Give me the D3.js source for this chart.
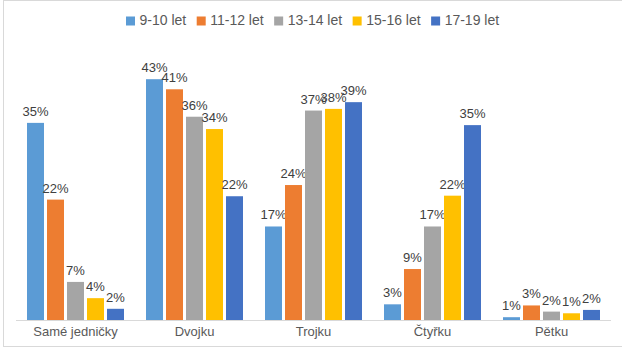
<!DOCTYPE html>
<html><head><meta charset="utf-8">
<script src="https://cdn.jsdelivr.net/npm/d3@7"></script>
<style>body{margin:0;background:#fff}svg{display:block}</style>
</head><body>
<svg id="c" width="622" height="348"></svg>
<script>
const categories = ["Samé jedničky","Dvojku","Trojku","Čtyřku","Pětku"];
const seriesNames = ["9-10 let","11-12 let","13-14 let","15-16 let","17-19 let"];
const colors = ["#5B9BD5","#ED7D31","#A5A5A5","#FFC000","#4472C4"];
const s910  = [0.352, 0.430, 0.167, 0.028, 0.005];
const s1112 = [0.215, 0.412, 0.241, 0.091, 0.026];
const s1314 = [0.068, 0.363, 0.374, 0.167, 0.015];
const s1516 = [0.039, 0.341, 0.377, 0.222, 0.012];
const s1719 = [0.020, 0.221, 0.389, 0.348, 0.018];
const seriesValues = [s910, s1112, s1314, s1516, s1719];

const svg = d3.select("#c");
const W = 622, H = 348;
svg.append("rect").attr("x",3.5).attr("y",0.5).attr("width",700).attr("height",346)
  .attr("fill","#fff").attr("stroke","#d9d9d9");

const left = 16, right = 611, base = 320;
const x0 = d3.scaleBand().domain(categories).range([left,right]).paddingInner(0).paddingOuter(0);
const y = d3.scaleLinear().domain([0,0.5]).range([base, base-280]);
const barW = 17, pitch = 20;
const x1 = d3.scaleBand().domain(seriesNames).range([0, pitch*5]).padding(0);

const g = svg.append("g");
seriesNames.forEach((s,si)=>{
  const vals = seriesValues[si];
  categories.forEach((c,ci)=>{
    const cx = x0(c) + x0.bandwidth()/2 - (pitch*5 - (pitch-barW))/2;
    const bx = cx + x1(s);
    const v = vals[ci];
    g.append("rect").attr("x",bx).attr("y",y(v)).attr("width",barW).attr("height",base-y(v))
      .attr("fill",colors[si]);
    g.append("text").attr("x",bx+barW/2).attr("y",y(v)-7).attr("text-anchor","middle")
      .attr("font-family","Liberation Sans, Arial, sans-serif").attr("font-size",13)
      .attr("fill","#404040").text(d3.format(".0%")(v));
  });
});

// baseline axis
const ax = svg.append("g").attr("transform",`translate(0,${base})`)
  .call(d3.axisBottom(x0).tickSize(0).tickPadding(0));
ax.select(".domain").attr("stroke","#d9d9d9").attr("d",`M${left},0.5H${right}`);
ax.selectAll("text").attr("font-family","Liberation Sans, Arial, sans-serif").attr("font-size",13)
  .attr("fill","#595959").attr("dy",null).attr("y",15.5);

// legend
const lg = svg.append("g").attr("font-family","Liberation Sans, Arial, sans-serif").attr("font-size",14);
let lx = 126;
seriesNames.forEach((s,i)=>{
  lg.append("rect").attr("x",lx).attr("y",16.5).attr("width",9).attr("height",9).attr("fill",colors[i]);
  const t = lg.append("text").attr("x",lx+13.5).attr("y",25).attr("fill","#595959").text(s);
  const w = t.node().getComputedTextLength();
  lx = lx + 13.5 + w + 10.5;
});
</script>
</body></html>
